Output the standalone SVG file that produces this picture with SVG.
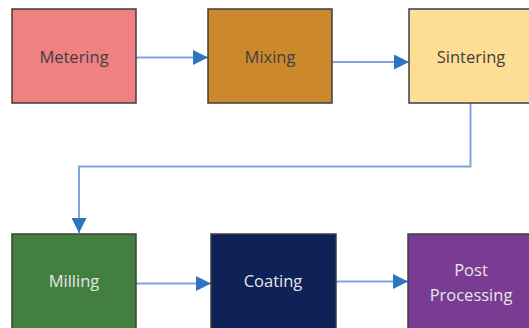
<svg xmlns="http://www.w3.org/2000/svg" width="529" height="328" viewBox="0 0 529 328">
<style>
.box{stroke:#3f3f3f;stroke-width:1.5}
.t{font-family:"Open Sans","Noto Sans",sans-serif;font-size:16.5px;text-anchor:middle;dominant-baseline:central}
.dk{fill:#404040}
.lt{fill:#e6e6e6}
.c{fill:none;stroke:#7ea6dc;stroke-width:2}
</style>
<defs>
<marker id="ah" viewBox="0 0 10 10" refX="10" refY="5" markerWidth="15" markerHeight="15" markerUnits="userSpaceOnUse" orient="auto">
<path d="M0,0 L10,5 L0,10 Z" fill="#2e75c1"/>
</marker>
</defs>
<rect width="529" height="328" fill="#ffffff"/>
<g id="connectors">
<line class="c" x1="136" y1="57.5" x2="208" y2="57.5" marker-end="url(#ah)"/>
<line class="c" x1="332" y1="62" x2="409" y2="62" marker-end="url(#ah)"/>
<path class="c" d="M470.5,103 V166.5 H79 V233" marker-end="url(#ah)"/>
<line class="c" x1="136" y1="283.5" x2="211" y2="283.5" marker-end="url(#ah)"/>
<line class="c" x1="336" y1="281.5" x2="408" y2="281.5" marker-end="url(#ah)"/>
</g>
<g id="metering">
<rect class="box" x="12" y="9" width="124" height="94" fill="#f08081"/>
<text class="t dk" x="74" y="56">Metering</text>
</g>
<g id="mixing">
<rect class="box" x="208" y="9" width="124" height="94" fill="#cc882d"/>
<text class="t dk" x="270" y="56">Mixing</text>
</g>
<g id="sintering">
<rect class="box" x="409" y="9" width="124" height="94" fill="#fedd95"/>
<text class="t dk" x="471" y="56">Sintering</text>
</g>
<g id="milling">
<rect class="box" x="12" y="234" width="124" height="100" fill="#438040"/>
<text class="t lt" x="74" y="280">Milling</text>
</g>
<g id="coating">
<rect class="box" x="211" y="234" width="125" height="100" fill="#0e2257"/>
<text class="t lt" x="273" y="280">Coating</text>
</g>
<g id="post-processing">
<rect class="box" x="408" y="234" width="125" height="100" fill="#7a3c92"/>
<text class="t lt" x="471" y="269">Post</text>
<text class="t lt" x="471" y="294">Processing</text>
</g>
</svg>
